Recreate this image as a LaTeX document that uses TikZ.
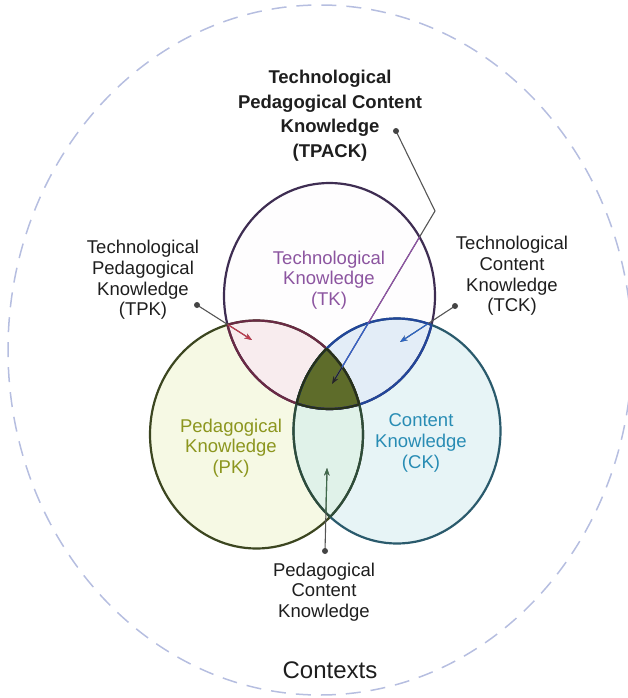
\documentclass[tikz,border=0pt]{standalone}
\usepackage{fontspec}
\setmainfont{Liberation Sans}
\usetikzlibrary{arrows.meta}

\definecolor{outerc}{HTML}{B6BEE0}
\definecolor{tkfillc}{HTML}{FEFDFE}
\definecolor{pkfillc}{HTML}{F6F9E4}
\definecolor{ckfillc}{HTML}{E7F4F6}
\definecolor{tpkfillc}{HTML}{F8ECEE}
\definecolor{tckfillc}{HTML}{E3EDF7}
\definecolor{pckfillc}{HTML}{E0F2E9}
\definecolor{tpackfillc}{HTML}{5E6C2A}
\definecolor{tklinec}{HTML}{3E2D52}
\definecolor{pklinec}{HTML}{3C4620}
\definecolor{cklinec}{HTML}{2A5A6C}
\definecolor{tpklinec}{HTML}{6A2A44}
\definecolor{tcklinec}{HTML}{22469A}
\definecolor{pcklinec}{HTML}{2E4C3A}
\definecolor{darklinec}{HTML}{26301A}
\definecolor{tktextc}{HTML}{8C55A0}
\definecolor{pktextc}{HTML}{8C961E}
\definecolor{cktextc}{HTML}{288CB4}
\definecolor{blacktextc}{HTML}{1E1E1E}
\definecolor{connc}{HTML}{555555}
\definecolor{tpkarrc}{HTML}{C23A4E}
\definecolor{tckarrc}{HTML}{2A66C8}
\definecolor{tkarrc}{HTML}{9050A8}
\definecolor{pckarrc}{HTML}{3F6A4A}

\newcommand{\pTK}{(329.5,296) ellipse [x radius=105.5pt, y radius=113pt]}
\newcommand{\pPK}{(256.5,434.5) ellipse [x radius=106.5pt, y radius=114pt]}
\newcommand{\pCK}{(397,431) ellipse [x radius=103.5pt, y radius=112.5pt]}

\tikzset{
  circ/.style={line width=2.2pt},
  lbl/.style={align=center, inner sep=0pt, font=\fontsize{18.5}{20.6}\selectfont, text=blacktextc},
  title/.style={align=center, inner sep=0pt, font=\fontsize{18.5}{24.5}\selectfont\bfseries, text=blacktextc},
  conn/.style={line width=1.1pt, draw=connc},
  tipc/.style={-{Stealth[length=7.5pt,width=5.5pt]}},
  dotc/.style={fill=connc!80!black},
}

\begin{document}
\begin{tikzpicture}[x=1pt,y=-1pt]
\useasboundingbox (0,0) rectangle (627,698);

% outer context boundary
\draw[outerc, line width=1.5pt, dash pattern=on 15pt off 10pt] (320,350) ellipse [x radius=312pt, y radius=345pt];

% fills
\fill[tkfillc] \pTK;
\fill[pkfillc] \pPK;
\fill[ckfillc] \pCK;
\begin{scope}\clip \pTK; \fill[tpkfillc] \pPK; \fill[tckfillc] \pCK; \end{scope}
\begin{scope}\clip \pPK; \fill[pckfillc] \pCK; \end{scope}
\begin{scope}\clip \pTK; \clip \pPK; \fill[tpackfillc] \pCK; \end{scope}

% circle strokes
\draw[tklinec, circ] \pTK;
\draw[pklinec, circ] \pPK;
\draw[cklinec, circ] \pCK;
\begin{scope}\clip \pTK; \draw[tpklinec, circ] \pPK; \draw[tcklinec, circ] \pCK; \end{scope}
\begin{scope}\clip \pPK; \draw[tpklinec, circ] \pTK; \draw[pcklinec, circ] \pCK; \end{scope}
\begin{scope}\clip \pCK; \draw[tcklinec, circ] \pTK; \draw[pcklinec, circ] \pPK; \end{scope}
\begin{scope}\clip \pTK; \clip \pPK; \draw[darklinec, circ] \pCK; \end{scope}
\begin{scope}\clip \pTK; \clip \pCK; \draw[darklinec, circ] \pPK; \end{scope}
\begin{scope}\clip \pPK; \clip \pCK; \draw[darklinec, circ] \pTK; \end{scope}

% labels
\node[title] (tpack) at (330,115.5) {Technological\\Pedagogical Content\\Knowledge\\(TPACK)};
\node[lbl] (tpk) at (143,280) {Technological\\Pedagogical\\Knowledge\\(TPK)};
\node[lbl] (tck) at (512,276) {Technological\\Content\\Knowledge\\(TCK)};
\node[lbl, text=tktextc] (tk) at (329,280) {Technological\\Knowledge\\(TK)};
\node[lbl, text=pktextc] (pk) at (231,448) {Pedagogical\\Knowledge\\(PK)};
\node[lbl, text=cktextc] (ck) at (421,443) {Content\\Knowledge\\(CK)};
\node[lbl] (pck) at (324,592) {Pedagogical\\Content\\Knowledge};
\node[inner sep=0pt, font=\fontsize{24}{28}\selectfont, text=blacktextc] (ctx) at (330,670) {Contexts};

% connector points
\coordinate (tpackdot) at (396,131);
\coordinate (tpackbend) at (435,211);
\coordinate (tpacktip) at (332,384);
\coordinate (tpkdot) at (197,305);
\coordinate (tpktip) at (252,340);
\coordinate (tckdot) at (455,306);
\coordinate (tcktip) at (400,342);
\coordinate (pckdot) at (325,551);
\coordinate (pcktip) at (327,468);

% TPACK connector
\draw[conn, tipc] (tpackdot) -- (tpackbend) -- (tpacktip);
\begin{scope}\clip \pTK; \draw[conn, draw=tkarrc, shorten >=6pt] (tpackbend) -- (tpacktip); \end{scope}
\begin{scope}\clip \pTK; \clip \pCK; \draw[conn, draw=tckarrc, shorten >=6pt] (tpackbend) -- (tpacktip); \end{scope}
\begin{scope}\clip \pTK; \clip \pCK; \clip \pPK; \draw[conn, draw=black!85, tipc] (tpackbend) -- (tpacktip); \end{scope}

% TPK connector
\draw[conn, tipc] (tpkdot) -- (tpktip);
\begin{scope}\clip \pTK; \clip \pPK; \draw[conn, draw=tpkarrc, fill=tpkarrc, tipc] (tpkdot) -- (tpktip); \end{scope}

% TCK connector
\draw[conn, tipc] (tckdot) -- (tcktip);
\begin{scope}\clip \pTK; \clip \pCK; \draw[conn, draw=tckarrc, fill=tckarrc, tipc] (tckdot) -- (tcktip); \end{scope}

% PCK connector
\draw[conn, tipc] (pckdot) -- (pcktip);
\begin{scope}\clip \pPK; \clip \pCK; \draw[conn, draw=pckarrc, fill=pckarrc, tipc] (pckdot) -- (pcktip); \end{scope}

% dots
\fill[dotc] (tpackdot) circle (3pt);
\fill[dotc] (tpkdot) circle (3pt);
\fill[dotc] (tckdot) circle (3pt);
\fill[dotc] (pckdot) circle (3pt);
\end{tikzpicture}
\end{document}
